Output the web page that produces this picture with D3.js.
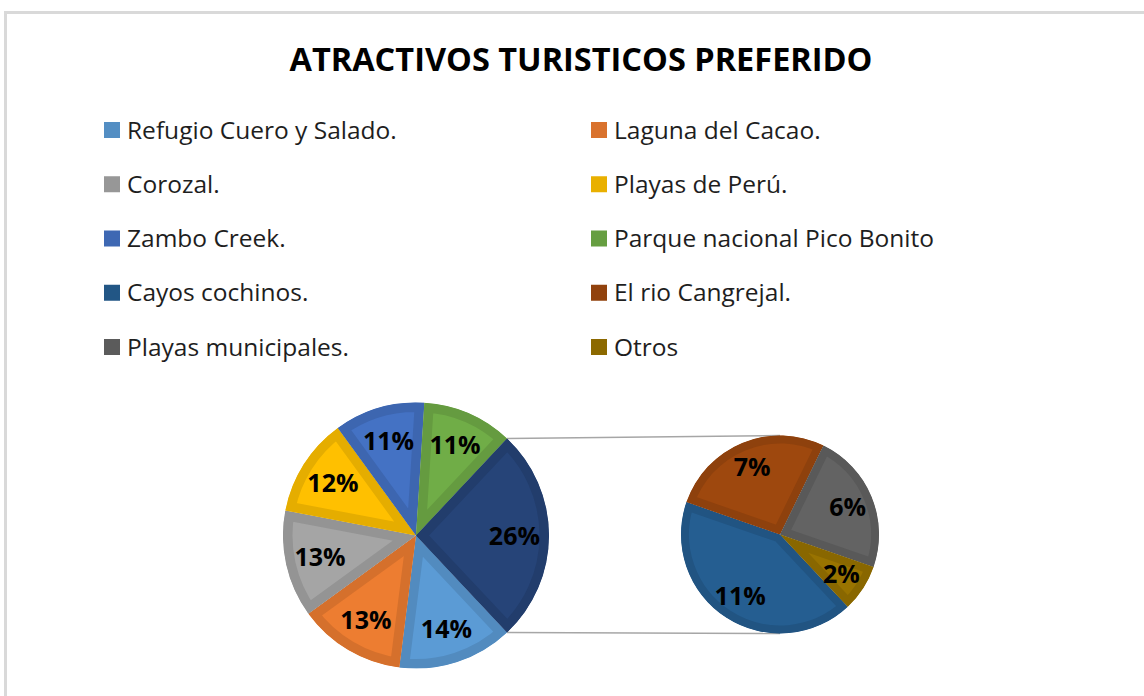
<!DOCTYPE html>
<html>
<head>
<meta charset="utf-8">
<script src="https://cdn.jsdelivr.net/npm/d3@7"></script>
<style>
  html, body { margin: 0; padding: 0; background: #fff; }
  svg { display: block; font-family: 'Open Sans', 'Noto Sans', sans-serif; }
</style>
</head>
<body>
<svg id="chart" width="1144" height="696"></svg>
<script>
// data (percent)
const categories = [
  'Refugio Cuero y Salado.', 'Laguna del Cacao.', 'Corozal.', 'Playas de Perú.',
  'Zambo Creek.', 'Parque nacional Pico Bonito', 'Cayos cochinos.',
  'El rio Cangrejal.', 'Playas municipales.', 'Otros'
]
const values = [14, 13, 13, 12, 11, 11, 11, 7, 6, 2]
const colors = [
  '#5B9BD5', '#ED7D31', '#A5A5A5', '#FFC000', '#4472C4',
  '#70AD47', '#255E91', '#9E480E', '#636363', '#997300'
]
const otherColor = '#264478'
const splitAt = 6 // last four go to the second pie

const W = 1144, H = 696
const svg = d3.select('#chart')

// frame
svg.append('rect')
  .attr('x', 5.5).attr('y', 12.5)
  .attr('width', W + 20).attr('height', H + 20)
  .attr('fill', 'none').attr('stroke', '#D9D9D9').attr('stroke-width', 3)

svg.append('text')
  .attr('x', 581).attr('y', 71)
  .attr('text-anchor', 'middle')
  .attr('font-size', 32.5).attr('font-weight', 700)
  .attr('fill', '#000')
  .text('ATRACTIVOS TURISTICOS PREFERIDO')

// legend, two columns
const legend = svg.append('g')
const rowY = d3.scalePoint().domain(d3.range(5)).range([130, 347])
const colX = [104, 591]
categories.forEach((name, i) => {
  const g = legend.append('g')
    .attr('transform', `translate(${colX[i % 2]},${rowY(Math.floor(i / 2))})`)
  g.append('rect')
    .attr('x', 0).attr('y', -8).attr('width', 16).attr('height', 16)
    .attr('fill', d3.color(colors[i]).darker(0.25))
  g.append('text')
    .attr('x', 23).attr('dy', '0.35em')
    .attr('font-size', 24.5).attr('fill', '#1e1e1e')
    .text(name)
})

// pies
const mainData = values.slice(0, splitAt).map((v, i) => ({name: categories[i], value: v, color: colors[i]}))
const subData = values.slice(splitAt).map((v, i) => ({name: categories[splitAt + i], value: v, color: colors[splitAt + i]}))
const otherTotal = d3.sum(subData, d => d.value)
mainData.push({name: 'Otro', value: otherTotal, color: otherColor})

const total = d3.sum(mainData, d => d.value)
const otherSpan = 2 * Math.PI * otherTotal / total
const start = Math.PI / 2 + otherSpan / 2

const main = {cx: 416, cy: 535.5, r: 133}
const sub = {cx: 780, cy: 534.5, r: 99}

function drawPie(target, data, geo, id) {
  const pie = d3.pie().value(d => d.value).sort(null)
    .startAngle(start).endAngle(start + 2 * Math.PI)
  const arcs = pie(data)
  const arc = d3.arc().innerRadius(0).outerRadius(geo.r)
  const labelArc = d3.arc().innerRadius(geo.r * 0.74).outerRadius(geo.r * 0.74)
  const g = target.append('g').attr('transform', `translate(${geo.cx},${geo.cy})`)
  const defs = svg.append('defs')
  arcs.forEach((a, i) => {
    defs.append('clipPath').attr('id', `${id}-clip-${i}`)
      .append('path').attr('d', arc(a))
  })
  // bevel look: darker band inside each slice edge
  g.selectAll('path.slice').data(arcs).join('path')
    .attr('class', 'slice')
    .attr('d', arc)
    .attr('fill', d => d.data.color)
    .attr('stroke', d => d3.color(d.data.color).darker(0.3))
    .attr('stroke-width', geo.r > 110 ? 19 : 16)
    .attr('stroke-linejoin', 'round')
    .attr('clip-path', (d, i) => `url(#${id}-clip-${i})`)
  g.selectAll('text').data(arcs).join('text')
    .attr('transform', d => `translate(${labelArc.centroid(d)})`)
    .attr('text-anchor', 'middle').attr('dy', '0.36em')
    .attr('font-size', 25).attr('font-weight', 700).attr('fill', '#000')
    .text(d => `${Math.round(d.data.value / total * 100)}%`)
  return arcs
}

// connector lines between the "other" slice and the second pie
const a0 = start - otherSpan, a1 = start
const lines = [
  [[main.cx + main.r * Math.sin(a0), main.cy - main.r * Math.cos(a0)], [sub.cx, sub.cy - sub.r]],
  [[main.cx + main.r * Math.sin(a1), main.cy - main.r * Math.cos(a1)], [sub.cx, sub.cy + sub.r]]
]
svg.selectAll('line.conn').data(lines).join('line')
  .attr('class', 'conn')
  .attr('x1', d => d[0][0]).attr('y1', d => d[0][1])
  .attr('x2', d => d[1][0]).attr('y2', d => d[1][1])
  .attr('stroke', '#A6A6A6').attr('stroke-width', 1.5)

drawPie(svg, mainData, main, 'main')
drawPie(svg, subData, sub, 'sub')
</script>
</body>
</html>
